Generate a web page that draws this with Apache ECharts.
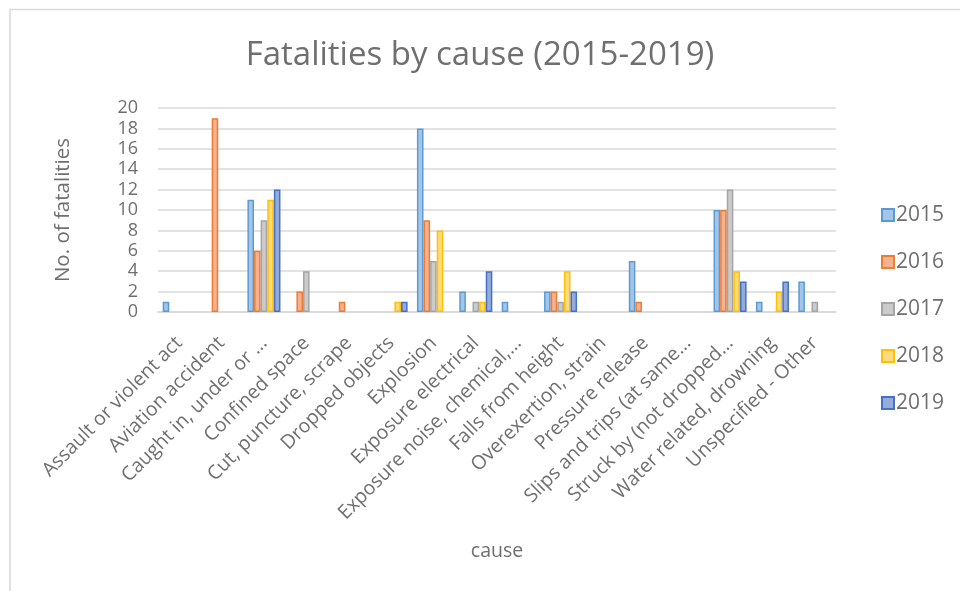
<!DOCTYPE html>
<html>
<head>
<meta charset="utf-8">
<script src="https://cdn.jsdelivr.net/npm/echarts@6/dist/echarts.min.js"></script>
<style>
  html, body { margin: 0; padding: 0; background: #fff; }
  #chart { width: 960px; height: 591px; }
</style>
</head>
<body>
<div id="chart"></div>
<script>
// Causes of fatalities (category axis)
const causes = [
  'Assault or violent act',
  'Aviation accident',
  'Caught in, under or …',
  'Confined space',
  'Cut, puncture, scrape',
  'Dropped objects',
  'Explosion',
  'Exposure electrical',
  'Exposure noise, chemical,…',
  'Falls from height',
  'Overexertion, strain',
  'Pressure release',
  'Slips and trips (at same…',
  'Struck by (not dropped…',
  'Water related, drowning',
  'Unspecified - Other'
];

const years = ['2015', '2016', '2017', '2018', '2019'];

// Fatalities per cause, one array per year
const y2015 = [1, 0, 11, 0, 0, 0, 18, 2, 1, 2, 0, 5, 0, 10, 1, 3];
const y2016 = [0, 19, 6, 2, 1, 0, 9, 0, 0, 2, 0, 1, 0, 10, 0, 0];
const y2017 = [0, 0, 9, 4, 0, 0, 5, 1, 0, 1, 0, 0, 0, 12, 0, 1];
const y2018 = [0, 0, 11, 0, 0, 1, 8, 1, 0, 4, 0, 0, 0, 4, 2, 0];
const y2019 = [0, 0, 12, 0, 0, 1, 0, 4, 0, 2, 0, 0, 0, 3, 3, 0];

const yearValues = [y2015, y2016, y2017, y2018, y2019];

// Fill / outline pairs for each year
const fills = ['#a5c5e8', '#f6b192', '#cbcbcb', '#ffda80', '#94abdc'];
const borders = ['#5b9bd5', '#ed7d31', '#a5a5a5', '#ffc000', '#4472c4'];

const textColor = '#6f6f6f';
const fontFamily = '"Open Sans", sans-serif';

const chart = echarts.init(document.getElementById('chart'), null, { renderer: 'canvas' });

chart.setOption({
  animation: false,
  textStyle: { fontFamily: fontFamily },
  title: {
    text: 'Fatalities by cause (2015-2019)',
    left: 'center',
    top: 34,
    textStyle: { fontSize: 33, fontWeight: 'normal', color: textColor, fontFamily: fontFamily }
  },
  graphic: [{
    type: 'rect',
    shape: { x: 10, y: 9.5, width: 980, height: 620 },
    style: { fill: 'none', stroke: '#d9d9d9', lineWidth: 1.5 },
    silent: true
  }],
  legend: {
    orient: 'vertical',
    left: 876,
    top: 199,
    itemWidth: 12,
    itemHeight: 12,
    itemGap: 25,
    icon: 'rect',
    textStyle: { fontSize: 21, lineHeight: 22, color: textColor, fontFamily: fontFamily, padding: [0, 0, 0, -3] },
    data: years
  },
  grid: { left: 158, right: 124, top: 108, bottom: 279, containLabel: false },
  xAxis: {
    type: 'category',
    data: causes,
    name: 'cause',
    nameLocation: 'middle',
    nameGap: 229,
    nameTextStyle: { fontSize: 19.5, color: textColor },
    axisLine: { lineStyle: { color: '#d9d9d9', width: 1.5 } },
    axisTick: { show: false },
    axisLabel: {
      interval: 0,
      rotate: 45,
      fontSize: 19.5,
      color: textColor,
      margin: 28
    }
  },
  yAxis: {
    type: 'value',
    min: 0,
    max: 20,
    interval: 2,
    name: 'No. of fatalities',
    nameLocation: 'middle',
    nameGap: 84,
    nameTextStyle: { fontSize: 20.5, color: textColor },
    axisLine: { show: false },
    axisTick: { show: false },
    axisLabel: { fontSize: 18, color: textColor, margin: 20 },
    splitLine: { lineStyle: { color: '#d9d9d9', width: 1.5 } }
  },
  series: years.map((yr, i) => ({
    name: yr,
    type: 'bar',
    // a zero count has no bar
    data: yearValues[i].map(v => (v === 0 ? '-' : v)),
    barGap: '0%',
    barCategoryGap: '22%',
    itemStyle: { color: fills[i], borderColor: borders[i], borderWidth: 1.5 }
  }))
});
</script>
</body>
</html>
